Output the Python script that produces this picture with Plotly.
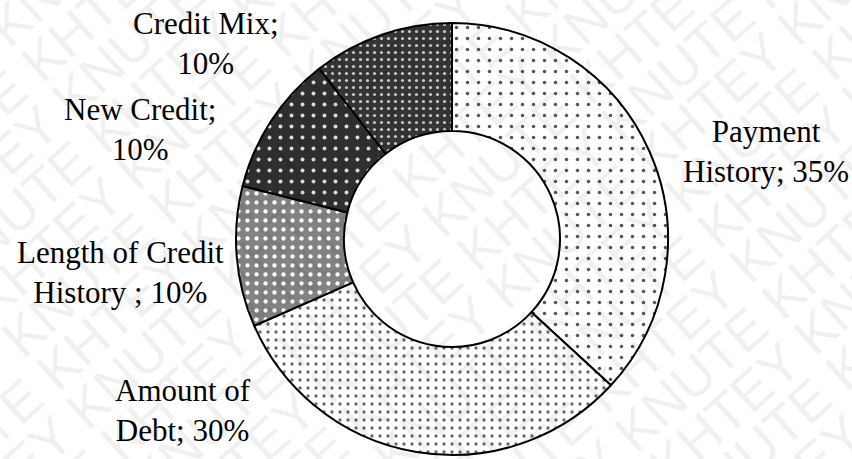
import plotly.graph_objects as go
import math

# ---- data ----
categories = ["Payment History", "Amount of Debt", "Length of Credit History", "New Credit", "Credit Mix"]
values = [35, 30, 10, 10, 10]
label_texts = ["Payment<br>History; 35%", "Amount of<br>Debt; 30%", "Length of Credit<br>History ; 10%",
               "New Credit;<br>10%", "Credit Mix;<br>10%"]
watermark_words = ["KHTEY", "KNUTE"]

# ---- styling ----
W, H = 852, 459
pat_shape = [".", ".", ".", ".", "."]
pat_bg = ["#ffffff", "#ffffff", "#828282", "#2f2f2f", "#353535"]
pat_fg = ["#555555", "#6a6a6a", "#ffffff", "#dddddd", "#c8c8c8"]
pat_size = [11, 8, 9, 11, 7]
pat_solid = [0.08, 0.14, 0.18, 0.1, 0.16]
# label positions in pixels (layout only)
label_px = [(766, 151), (183, 410), (120, 272), (140, 129), (206, 43)]

cx, cy, R = 452, 239, 216

fig = go.Figure()
fig.add_trace(go.Pie(
    labels=categories,
    values=values,
    sort=False,
    direction="clockwise",
    rotation=0,
    hole=0.5,
    textinfo="none",
    hoverinfo="label+percent",
    marker=dict(
        colors=pat_bg,
        line=dict(color="black", width=2),
        pattern=dict(shape=pat_shape, bgcolor=pat_bg, fgcolor=pat_fg,
                     size=pat_size, solidity=pat_solid, fillmode="replace"),
    ),
    domain=dict(x=[(cx - R) / W, (cx + R) / W], y=[(H - cy - R) / H, (H - cy + R) / H]),
    showlegend=False,
))

annotations = []
# faint diagonal watermark, as in the reference
ang = 42
ux, uy = math.sin(math.radians(ang)), math.cos(math.radians(ang))
for k in range(-11, 12):
    a, b = watermark_words if k % 2 == 0 else watermark_words[::-1]
    line = " ".join([a, b] * 5)
    px = 426 + k * 48 * ux
    py = 230 + k * 48 * uy
    annotations.append(dict(
        x=px / W, y=1 - py / H, xref="paper", yref="paper", showarrow=False,
        text=line, textangle=-ang,
        font=dict(family="Liberation Sans, Arial, sans-serif", size=54, color="rgba(0,0,0,0.06)"),
        xanchor="center", yanchor="middle",
    ))

for txt, (lx, ly) in zip(label_texts, label_px):
    annotations.append(dict(
        x=lx / W, y=1 - ly / H, xref="paper", yref="paper", showarrow=False,
        text=txt, align="center", xanchor="center", yanchor="middle",
        font=dict(family="Liberation Serif, Times New Roman, serif", size=31, color="black"),
    ))

fig.update_layout(
    width=W, height=H,
    margin=dict(l=0, r=0, t=0, b=0),
    paper_bgcolor="white", plot_bgcolor="white",
    annotations=annotations,
)

fig.write_html("out.html")
